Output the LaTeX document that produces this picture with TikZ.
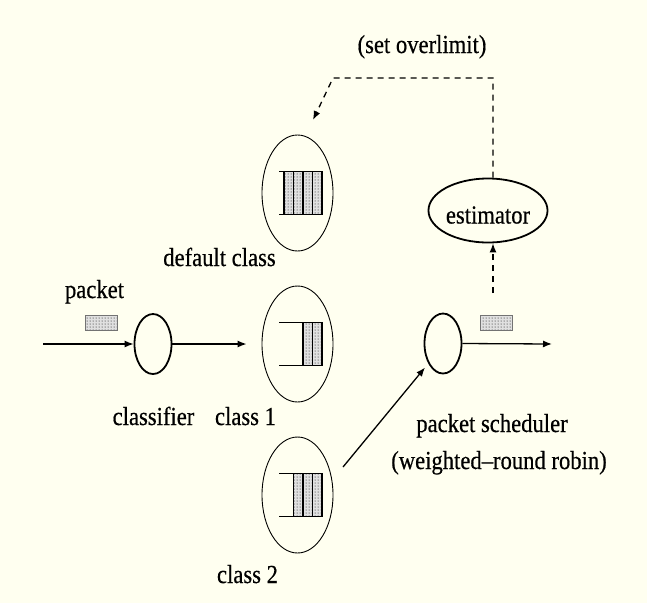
\documentclass[tikz,border=0pt]{standalone}
\usepackage{fontspec}
\setmainfont{Liberation Serif}[FakeStretch=0.87,FakeBold=0.5]
\usetikzlibrary{arrows.meta,patterns,calc,shapes.geometric}
\definecolor{bg}{RGB}{255,255,240}
\newcommand\qbox[2]{%
  \fill[black!12] ($(#1)+(24.5-9.5*#2,-21.5)$) rectangle ($(#1)+(24.5,21.5)$);
  \fill[pattern=dots, pattern color=black] ($(#1)+(24.5-9.5*#2,-21.5)$) rectangle ($(#1)+(24.5,21.5)$);
  \draw[qline] ($(#1)+(-18.5,-21.5)$) -- ($(#1)+(24.5,-21.5)$) -- ($(#1)+(24.5,21.5)$) -- ($(#1)+(-18.5,21.5)$);
  \foreach \i in {1,...,#2} \draw[line width=1.2pt] ($(#1)+(24.5-9.5*\i,-21.5)$) -- ($(#1)+(24.5-9.5*\i,21.5)$);
}
\begin{document}
\begin{tikzpicture}[x=1pt,y=-1pt,
  font=\fontsize{26}{30}\selectfont,
  arr/.style={line width=1.3pt,-{Latex[length=9pt,width=7pt]}},
  dsh/.style={line width=1.3pt,dash pattern=on 6pt off 5pt},
  qline/.style={line width=1.6pt},
  classell/.style={ellipse,draw,line width=0.9pt,minimum width=71pt,minimum height=116pt,inner sep=0pt},
  proc/.style={ellipse,draw,line width=1.8pt,minimum width=37pt,minimum height=60pt,inner sep=0pt},
  pkt/.style={draw=black!55,line width=0.9pt,minimum width=32pt,minimum height=15pt,inner sep=0pt,
     preaction={fill=black!12},pattern=dots,pattern color=black},
  lbl/.style={anchor=base,inner sep=0pt}]
\useasboundingbox (0,0) rectangle (647,603);
\fill[bg] (0,0) rectangle (647,603);

% class queues
\node[classell] (c0) at (297.5,193) {};
\node[classell] (c1) at (297.5,344) {};
\node[classell] (c2) at (297.5,495) {};
\qbox{c0}{4}
\qbox{c1}{2}
\qbox{c2}{3}

% classifier and scheduler
\node[proc] (cl) at (153,344) {};
\node[proc] (sch) at (443,343.5) {};
\node[ellipse,draw,line width=1.8pt,minimum width=118pt,minimum height=64pt,inner sep=0pt,text height=26pt,text depth=0pt] (est) at (488,210.5) {estimator};

% packets
\node[pkt] (p1) at (101,322.5) {};
\node[pkt] (p2) at (496,322.5) {};

% coordinates
\coordinate (in) at (43,344);
\coordinate (out) at (552,344);
\coordinate (eb) at (493,293);
\coordinate (fb1) at (493,78);
\coordinate (fb2) at (333,78);
\coordinate (fb3) at (313,120);

% connectors
\draw[arr] (in) -- (cl.west);
\draw[arr,shorten >=15pt] (cl.east) -- (c1.west);
\draw[arr] ([shift={(45.5,-28)}]c2.center) -- ([shift={(-18,24)}]sch.center);
\draw[arr] (sch.east) -- (out);
\draw[dsh,-{Latex[length=9pt,width=7pt]}] (eb) -- ([xshift=5pt]est.south);
\draw[dsh,-{Latex[length=9pt,width=7pt]}] ([xshift=5pt]est.north) -- (fb1) -- (fb2) -- (fb3);

% labels
\node[lbl] (lpkt) at (94.5,298) {packet};
\node[lbl] (lcl) at (153.5,425) {classifier};
\node[lbl] (lc1) at (245.5,425) {class 1};
\node[lbl] (lc0) at (219.5,266) {default class};
\node[lbl] (lc2) at (247.5,583) {class 2};
\node[lbl] (lsch) at (492,432) {packet scheduler};
\node[lbl] (lwrr) at (499,469) {(weighted–round robin)};
\node[lbl] (lset) at (422,53) {(set overlimit)};
\end{tikzpicture}
\end{document}
